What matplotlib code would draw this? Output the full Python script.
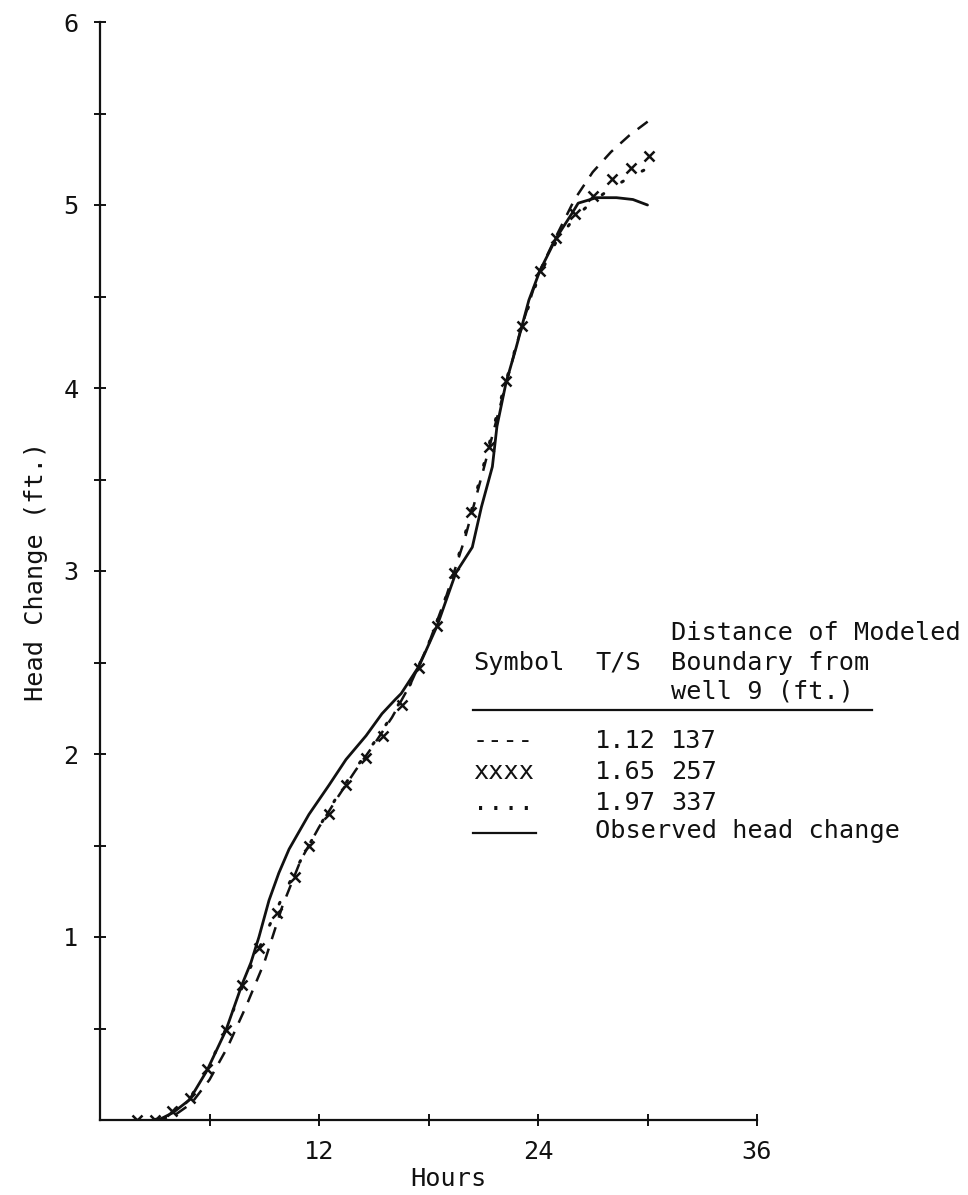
import numpy as np
import matplotlib
matplotlib.use("Agg")
import matplotlib.pyplot as plt
from matplotlib.lines import Line2D

# Observed head change (solid)
obs_hours = [3.2, 4.0, 4.9, 5.86, 6.9, 7.78, 8.27, 8.71, 9.26, 9.8, 10.36, 11.45, 12.55, 13.48,
             14.58, 15.45, 16.2, 16.5, 17.48, 18.47, 19.5, 20.4, 20.9, 21.5, 21.75, 22.25,
             22.8, 23.5, 24.1, 25.0, 25.9, 26.2, 27.2, 28.3, 29.2, 30.0]
obs_head = [0.0, 0.04, 0.11, 0.27, 0.49, 0.74, 0.86, 1.0, 1.2, 1.35, 1.48, 1.67, 1.83, 1.97,
            2.10, 2.22, 2.30, 2.33, 2.48, 2.70, 2.99, 3.13, 3.35, 3.57, 3.79, 4.03,
            4.22, 4.48, 4.64, 4.82, 4.96, 5.01, 5.04, 5.04, 5.03, 5.00]

# T/S 1.12, boundary 137 ft (dashed)
ts112_hours = [3.0, 4.0, 5.0, 6.0, 7.0, 8.0, 9.0, 10.0, 11.0, 12.0, 13.0, 14.0, 15.0, 16.0,
               17.0, 18.0, 19.0, 20.0, 21.0, 22.0, 23.0, 24.0, 25.0, 26.0, 27.0, 28.0, 29.0, 30.2]
ts112_head = [0.0, 0.02, 0.09, 0.22, 0.40, 0.62, 0.86, 1.17, 1.42, 1.60, 1.76, 1.91, 2.05, 2.20,
              2.38, 2.60, 2.87, 3.18, 3.55, 3.93, 4.30, 4.62, 4.83, 5.03, 5.18, 5.29, 5.38, 5.47]

# T/S 1.65, boundary 257 ft (x symbols)
ts165_hours = [2.0, 3.0, 3.95, 4.93, 5.86, 6.9, 7.78, 8.71, 9.70, 10.68, 11.45, 12.55, 13.48,
               14.58, 15.51, 16.55, 17.48, 18.47, 19.40, 20.33, 21.32, 22.25, 23.12, 24.1,
               24.99, 26.03, 27.01, 28.05, 29.10, 30.08]
ts165_head = [0.0, 0.0, 0.05, 0.12, 0.28, 0.49, 0.74, 0.94, 1.13, 1.33, 1.50, 1.67, 1.83,
              1.98, 2.10, 2.27, 2.47, 2.70, 2.99, 3.32, 3.68, 4.04, 4.34, 4.64,
              4.82, 4.95, 5.05, 5.14, 5.20, 5.27]

# T/S 1.97, boundary 337 ft (dotted)
ts197_hours = [3.0, 4.0, 5.0, 6.0, 7.0, 8.0, 9.0, 10.0, 11.0, 12.0, 13.0, 14.0, 15.0, 16.0,
               17.0, 18.0, 19.0, 20.0, 21.0, 22.0, 23.0, 24.0, 25.0, 26.0, 27.0, 28.0, 29.0, 30.0]
ts197_head = [0.0, 0.05, 0.13, 0.30, 0.52, 0.78, 1.0, 1.22, 1.42, 1.60, 1.77, 1.92, 2.06, 2.21,
              2.38, 2.60, 2.87, 3.20, 3.57, 3.95, 4.30, 4.60, 4.80, 4.93, 5.02, 5.09, 5.15, 5.20]

table_header = ["Distance of Modeled", "Symbol", "T/S", "Boundary from", "well 9 (ft.)"]
table_symbols = ["----", "xxxx", "...."]
table_ts = ["1.12", "1.65", "1.97"]
table_dist = ["137", "257", "337"]

plt.rcParams["font.family"] = ["DejaVu Sans Mono", "DejaVu Sans"]
FS = 18.2

fig = plt.figure(figsize=(9.68, 11.95), dpi=100)
W, H = 968, 1195
ax = fig.add_axes([100 / W, (H - 1120) / H, 657 / W, 1098 / H])

ink = "#111111"
ax.plot(obs_hours, obs_head, color=ink, lw=2.0, solid_capstyle="round")
ax.plot(ts112_hours, ts112_head, color=ink, lw=1.8, linestyle=(0, (5, 4)))
ax.plot(ts197_hours, ts197_head, color=ink, lw=2.2, linestyle=(0, (0.6, 7)),
        dash_capstyle="round")
ax.plot(ts165_hours, ts165_head, linestyle="none", marker="x", markersize=7,
        markeredgewidth=1.8, color=ink)

ax.set_xlim(0, 36)
ax.set_ylim(0, 6)
for s in ["top", "right"]:
    ax.spines[s].set_visible(False)
for s in ["left", "bottom"]:
    ax.spines[s].set_linewidth(1.6)
    ax.spines[s].set_color(ink)

ax.set_xticks([12, 24, 36])
ax.set_xticks([6, 18, 30], minor=True)
ax.set_yticks([1, 2, 3, 4, 5, 6])
ax.set_yticks([0.5, 1.5, 2.5, 3.5, 4.5, 5.5], minor=True)
ax.tick_params(which="both", direction="inout", length=9, width=1.4, color=ink,
               labelsize=FS, labelcolor=ink)
ax.tick_params(axis="x", which="major", pad=10)
ax.tick_params(axis="y", which="major", pad=11)

ax.set_xlabel("Hours", fontsize=FS, color=ink)
ax.xaxis.set_label_coords((448 - 100) / 657, (1120 - 1167) / 1098)
ax.set_ylabel("Head Change (ft.)", fontsize=FS, color=ink)
ax.yaxis.set_label_coords((48 - 100) / 657, (1120 - 571) / 1098)


def ftext(x, y, s):
    fig.text(x / W, 1 - y / H, s, fontsize=FS, color=ink, ha="left", va="baseline")


# typewriter grid: columns at 0, 8 and 13 characters
c1, c2, c3 = 473, 595, 671
ftext(c3, 640, table_header[0])
ftext(c1, 670, table_header[1])
ftext(c2, 670, table_header[2])
ftext(c3, 670, table_header[3])
ftext(c3, 699, table_header[4])
fig.add_artist(Line2D([c1 / W, 872 / W], [1 - 710 / H, 1 - 710 / H], color=ink, lw=1.6))

rows_y = [748, 779, 810]
for y, sym, ts, d in zip(rows_y, table_symbols, table_ts, table_dist):
    ftext(c1, y, sym)
    ftext(c2, y, ts)
    ftext(c3, y, d)
fig.add_artist(Line2D([c1 / W, 536 / W], [1 - 833 / H, 1 - 833 / H], color=ink, lw=1.6))
ftext(c2, 838, "Observed head change")

fig.savefig("out.png", dpi=100, facecolor="white")
